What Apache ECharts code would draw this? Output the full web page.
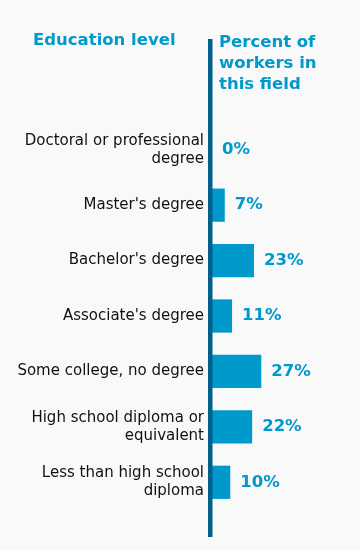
<!DOCTYPE html>
<html>
<head>
<meta charset="utf-8">
<script src="https://cdn.jsdelivr.net/npm/echarts@6/dist/echarts.min.js"></script>
<style>
html,body{margin:0;padding:0;background:#f9f9f9;}
#chart{width:360px;height:550px;}
</style>
</head>
<body>
<div id="chart"></div>
<script>
var categories = [
  "Doctoral or professional\ndegree",
  "Master's degree",
  "Bachelor's degree",
  "Associate's degree",
  "Some college, no degree",
  "High school diploma or\nequivalent",
  "Less than high school\ndiploma"
];
var percents = [0, 7, 23, 11, 27, 22, 10];
var leftHeader = "Education level";
var rightHeader = "Percent of\nworkers in\nthis field";

var chart = echarts.init(document.getElementById('chart'));
chart.setOption({
  backgroundColor: '#f9f9f9',
  animation: false,
  title: [
    {
      text: leftHeader, left: 33, top: 32, padding: 0,
      textStyle: {fontFamily: 'DejaVu Sans', fontWeight: 'bold', fontSize: 16.5, color: '#0099cc'}
    },
    {
      text: rightHeader, left: 219, top: 32, padding: 0,
      textStyle: {fontFamily: 'DejaVu Sans', fontWeight: 'bold', fontSize: 16.5, color: '#0099cc', lineHeight: 21}
    }
  ],
  grid: {left: 212, right: 2, top: 122, bottom: 40, containLabel: false},
  xAxis: {
    type: 'value', min: 0, max: 80, show: false
  },
  yAxis: {
    type: 'category', data: categories, inverse: true,
    axisLine: {show: false}, axisTick: {show: false},
    axisLabel: {
      margin: 8, align: 'right',
      fontFamily: 'DejaVu Sans', fontSize: 15, color: '#111', lineHeight: 18
    }
  },
  series: [{
    type: 'bar', data: percents, barCategoryGap: '40%',
    itemStyle: {color: '#0099cc'},
    label: {
      show: true, position: 'right', distance: 10,
      formatter: '{c}%',
      fontFamily: 'DejaVu Sans', fontWeight: 'bold', fontSize: 16.5, color: '#0099cc'
    }
  }],
  graphic: [{
    type: 'rect', left: 208, top: 39, z: 10,
    shape: {width: 4.5, height: 498},
    style: {fill: '#00608a'}
  }]
});
</script>
</body>
</html>
